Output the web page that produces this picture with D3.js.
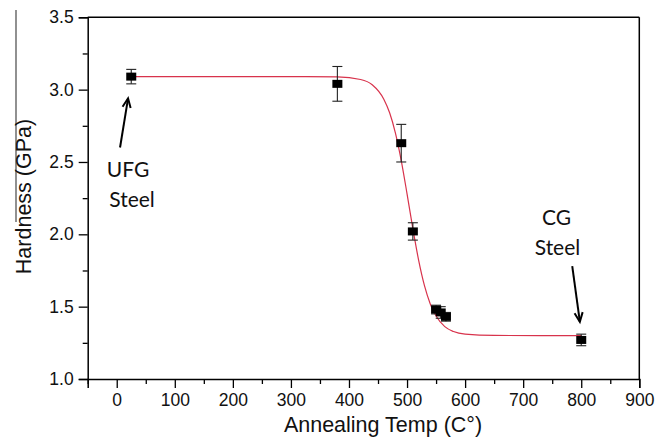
<!DOCTYPE html>
<html>
<head>
<meta charset="utf-8">
<script src="https://cdn.jsdelivr.net/npm/d3@7"></script>
<style>
  html, body { margin: 0; padding: 0; background: #fff; }
  svg { display: block; }
</style>
</head>
<body>
<div id="chart"></div>
<script>
// ---- data ----
const temps    = [25, 380, 490, 510, 550, 558, 567, 800];
const hardness = [3.09, 3.04, 2.63, 2.02, 1.48, 1.46, 1.43, 1.27];
const errs     = [0.05, 0.12, 0.13, 0.06, 0.03, 0.04, 0.03, 0.04];

// fitted (sigmoidal) curve
const fitX = [25, 300, 380, 420, 440, 460, 470, 480, 490, 500, 510, 520, 530, 540, 550, 565, 580, 600, 650, 800];
const fitY = [3.09, 3.09, 3.088, 3.07, 3.034, 2.934, 2.84, 2.70, 2.51, 2.28, 2.04, 1.82, 1.645, 1.519, 1.435, 1.362, 1.328, 1.31, 1.301, 1.30];

const xTicks = [0, 100, 200, 300, 400, 500, 600, 700, 800, 900];
const xMinor = [-50, 50, 150, 250, 350, 450, 550, 650, 750, 850];
const yTicks = [1.0, 1.5, 2.0, 2.5, 3.0, 3.5];
const yMinor = [1.25, 1.75, 2.25, 2.75, 3.25];

const xTitle = "Annealing Temp (C°)";
const yTitle = "Hardness (GPa)";

// annotations (data coordinates)
const notes = [
  { lines: ["UFG", "Steel"], x: [19.5, 26.4], y: [2.395, 2.188],
    arrow: { from: [5.7, 2.60], to: [19.5, 2.94] } },
  { lines: ["CG", "Steel"], x: [757.4, 759.1], y: [2.064, 1.856],
    arrow: { from: [784.5, 1.78], to: [797.6, 1.396] } }
];

// ---- layout ----
const W = 667, H = 438;
const L = 87.7, R = 639.3, T = 17.3, B = 379;

const svg = d3.select("#chart").append("svg").attr("width", W).attr("height", H);

const x = d3.scaleLinear().domain([-50, 900]).range([L, R]);
const y = d3.scaleLinear().domain([1, 3.5]).range([B, T]);

// crop artifact line at left edge of original figure
svg.append("line").attr("x1", 16).attr("x2", 16).attr("y1", 10).attr("y2", 222)
  .attr("stroke", "#555").attr("stroke-width", 1.3);

const axisFont = "'Liberation Sans', Arial, sans-serif";

// frame (top & right)
svg.append("line").attr("x1", L).attr("x2", R).attr("y1", T).attr("y2", T)
  .attr("stroke", "#000").attr("stroke-width", 1.5);
svg.append("line").attr("x1", R).attr("x2", R).attr("y1", T).attr("y2", B)
  .attr("stroke", "#000").attr("stroke-width", 1.5);

// x axis
const gx = svg.append("g").attr("transform", `translate(0,${B})`)
  .call(d3.axisBottom(x).tickValues(xTicks).tickSize(9).tickPadding(5).tickFormat(d3.format("d")));
gx.append("g").call(d3.axisBottom(x).tickValues(xMinor).tickSize(5).tickFormat(""))
  .select(".domain").remove();

// y axis
const gy = svg.append("g").attr("transform", `translate(${L},0)`)
  .call(d3.axisLeft(y).tickValues(yTicks).tickSize(9).tickPadding(5).tickFormat(d3.format(".1f")));
gy.append("g").call(d3.axisLeft(y).tickValues(yMinor).tickSize(5).tickFormat(""))
  .select(".domain").remove();

svg.selectAll(".domain").attr("stroke", "#000").attr("stroke-width", 1.5);
svg.selectAll(".tick line").attr("stroke", "#000").attr("stroke-width", 1.3);
svg.selectAll(".tick text").attr("font-family", axisFont).attr("font-size", 17.5).attr("fill", "#111");
gx.selectAll(".tick text").attr("dy", "0.72em");

// axis titles
svg.append("text").attr("x", 383).attr("y", 432).attr("text-anchor", "middle")
  .attr("font-family", axisFont).attr("font-size", 21.5).attr("fill", "#111").text(xTitle);
svg.append("text").attr("transform", `translate(31,196.5) rotate(-90)`).attr("text-anchor", "middle")
  .attr("font-family", axisFont).attr("font-size", 21.5).attr("fill", "#111").text(yTitle);

// fit curve
const pts = fitX.map((d, i) => [d, fitY[i]]);
svg.append("path").datum(pts)
  .attr("d", d3.line().x(d => x(d[0])).y(d => y(d[1])).curve(d3.curveMonotoneX))
  .attr("fill", "none").attr("stroke", "#d8334c").attr("stroke-width", 1.2);

// error bars
const data = temps.map((t, i) => ({ t, h: hardness[i], e: errs[i] }));
const eb = svg.append("g").attr("stroke", "#222").attr("stroke-width", 1.1);
data.forEach(d => {
  const cx = x(d.t), y0 = y(d.h - d.e), y1 = y(d.h + d.e);
  eb.append("line").attr("x1", cx).attr("x2", cx).attr("y1", y0).attr("y2", y1);
  eb.append("line").attr("x1", cx - 5).attr("x2", cx + 5).attr("y1", y0).attr("y2", y0);
  eb.append("line").attr("x1", cx - 5).attr("x2", cx + 5).attr("y1", y1).attr("y2", y1);
});

// markers
svg.append("g").selectAll("rect").data(data).join("rect")
  .attr("x", d => x(d.t) - 5).attr("y", d => y(d.h) - 4)
  .attr("width", 10).attr("height", 8).attr("fill", "#000");

// annotations
const noteFont = "Lato, 'Open Sans', sans-serif";
notes.forEach(n => {
  n.lines.forEach((s, i) => {
    svg.append("text").attr("x", x(n.x[i])).attr("y", y(n.y[i]))
      .attr("text-anchor", "middle").attr("font-family", noteFont)
      .attr("font-size", 21).attr("fill", "#111").text(s);
  });
  const x1 = x(n.arrow.from[0]), y1 = y(n.arrow.from[1]);
  const x2 = x(n.arrow.to[0]), y2 = y(n.arrow.to[1]);
  svg.append("line").attr("x1", x1).attr("y1", y1).attr("x2", x2).attr("y2", y2)
    .attr("stroke", "#000").attr("stroke-width", 2);
  const ang = Math.atan2(y2 - y1, x2 - x1), len = 10, spread = 0.42;
  const p1 = [x2 - len * Math.cos(ang - spread), y2 - len * Math.sin(ang - spread)];
  const p2 = [x2 - len * Math.cos(ang + spread), y2 - len * Math.sin(ang + spread)];
  svg.append("path").attr("d", `M${p1[0]},${p1[1]}L${x2},${y2}L${p2[0]},${p2[1]}`)
    .attr("fill", "none").attr("stroke", "#000").attr("stroke-width", 2)
    .attr("stroke-linejoin", "miter");
});
</script>
</body>
</html>
